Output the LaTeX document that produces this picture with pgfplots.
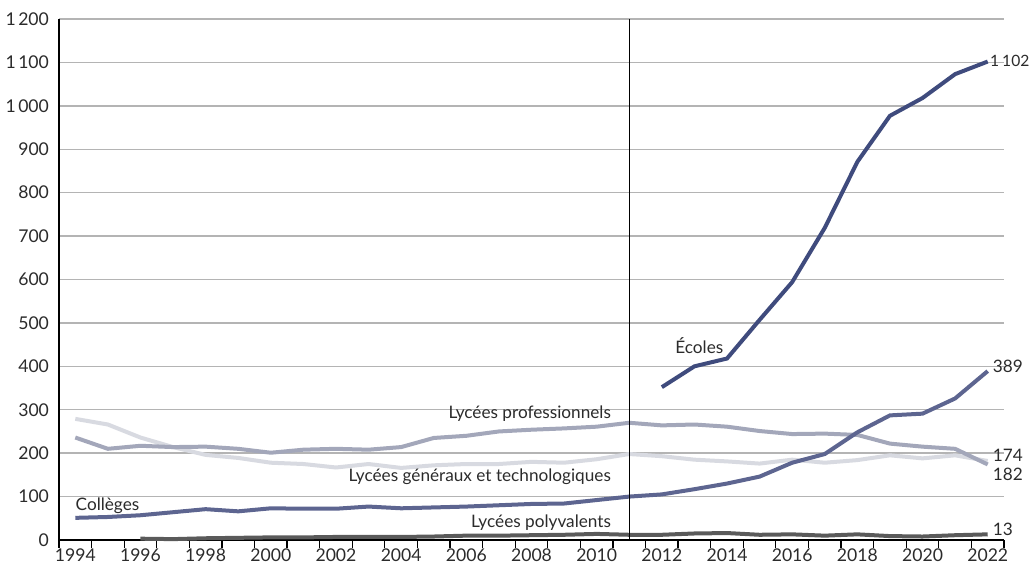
\documentclass[border=0pt]{standalone}
\usepackage{fontspec}
\setmainfont{Lato}
\usepackage{pgfplots}
\usepackage{pgfplotstable}
\pgfplotsset{compat=1.18}

\definecolor{ecoles}{HTML}{3F4B7D}
\definecolor{colleges}{HTML}{5D6590}
\definecolor{lpro}{HTML}{A3A7BA}
\definecolor{lgt}{HTML}{D8DAE1}
\definecolor{lpoly}{HTML}{5A5A5A}
\definecolor{gridgray}{HTML}{B4B4B4}
\definecolor{txt}{HTML}{2B2B2B}

\pgfplotstableread{
year ecoles colleges pro lgt poly
1994 nan 51 236 279 nan
1995 nan 53 210 266 nan
1996 nan 57 217 236 3
1997 nan 64 214 214 2
1998 nan 71 215 196 4
1999 nan 66 210 189 5
2000 nan 73 201 178 6
2001 nan 72 208 175 6
2002 nan 72 210 167 7
2003 nan 77 208 175 7
2004 nan 73 214 166 7
2005 nan 75 235 172 8
2006 nan 77 240 175 10
2007 nan 80 250 175 10
2008 nan 83 254 180 11
2009 nan 84 257 178 12
2010 nan 92 261 186 14
2011 nan 100 270 198 12
2012 352 105 264 193 12
2013 400 117 266 185 15
2014 418 130 261 181 16
2015 507 146 251 176 12
2016 594 178 244 185 13
2017 719 198 245 178 10
2018 871 248 242 184 13
2019 977 287 222 195 9
2020 1018 291 215 188 8
2021 1073 326 210 195 11
2022 1102 389 174 182 13
}\datatable

\begin{document}
\begin{tikzpicture}
\useasboundingbox (-29.5pt,-18.5pt) rectangle (485pt,270pt);
\begin{axis}[
    scale only axis,
    width=472.5pt, height=260.5pt,
    xmin=1993.5, xmax=2022.5,
    ymin=0, ymax=1200,
    axis lines*=left,
    axis line style={black, line width=0.6pt},
    xtick={1994,1996,...,2022},
    minor xtick={1993.5,1994.5,...,2022.5},
    ytick={0,100,...,1200},
    tick align=outside,
    major tick length=0pt,
    minor tick length=4pt,
    every minor tick/.style={black, line width=0.6pt},
    ymajorgrids=true,
    grid style={gridgray, line width=0.7pt},
    /pgf/number format/assume math mode=true,
    x tick label style={/pgf/number format/1000 sep={}, yshift=-1pt},
    y tick label style={/pgf/number format/1000 sep={\hspace{0.14em}}, xshift=-1.5pt},
    tick label style={font=\fontsize{8.8}{10}\selectfont, text=txt},
    unbounded coords=jump,
    clip=false,
]
\addplot[lgt, line width=2pt] table[x=year, y=lgt] {\datatable};
\addplot[lpro, line width=2pt] table[x=year, y=pro] {\datatable};
\addplot[colleges, line width=2pt] table[x=year, y=colleges] {\datatable};
\addplot[ecoles, line width=2pt] table[x=year, y=ecoles] {\datatable};
\addplot[lpoly, line width=2pt] table[x=year, y=poly] {\datatable};

\draw[black, line width=0.5pt] (axis cs:2011,0) -- (axis cs:2011,1200);

\begin{scope}[every node/.style={font=\fontsize{8.6}{10}\selectfont, text=txt, inner sep=0pt}]
\node[anchor=west] at (axis cs:1994,80) {Collèges};
\node[anchor=east] at (axis cs:2010.45,292) {Lycées professionnels};
\node[anchor=east] at (axis cs:2010.45,145) {Lycées généraux et technologiques};
\node[anchor=east] at (axis cs:2010.45,40) {Lycées polyvalents};
\node at (axis cs:2013.15,447) {Écoles};
\node[anchor=west, font=\fontsize{7.8}{10}\selectfont] at (axis cs:2022.06,1104) {1\hspace{0.2em}102};
\node[anchor=west] at (axis cs:2022.15,400) {389};
\node[anchor=west] at (axis cs:2022.15,194) {174};
\node[anchor=west] at (axis cs:2022.15,152) {182};
\node[anchor=west] at (axis cs:2022.15,24) {13};
\end{scope}
\end{axis}
\end{tikzpicture}
\end{document}
